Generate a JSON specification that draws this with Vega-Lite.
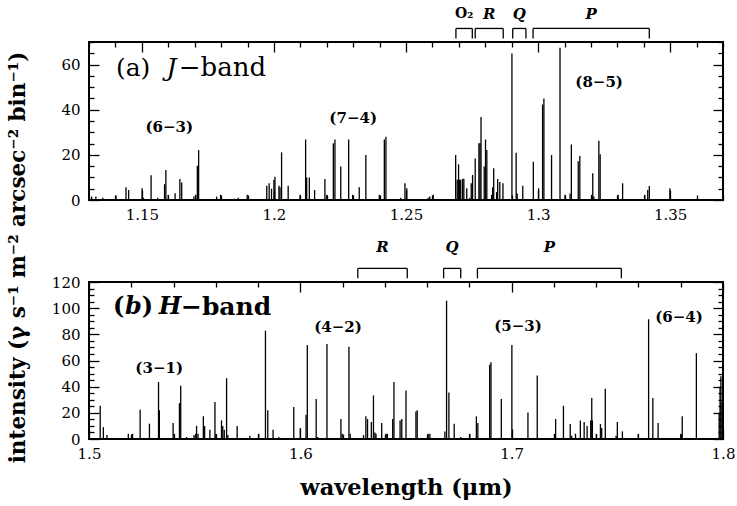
{
"$schema":"https://vega.github.io/schema/vega-lite/v6.json",
"autosize":{"type":"none"},
"padding":{"left":89,"top":42,"right":648,"bottom":464},
"bounds":"flush",
"spacing":82,
"config":{
 "font":"DejaVu Serif",
 "view":{"stroke":"black","strokeWidth":2},
 "axis":{"domain":false,"grid":false,"tickColor":"black","tickWidth":1.3,"labelColor":"black","labelFontSize":15,"labelFont":"DejaVu Serif","titleColor":"black","titleFont":"DejaVu Serif","titleFontWeight":"bold","titleFontSize":21.5,"labelOverlap":false,"labelFlush":false,"labelBound":false}
},
"datasets":{
 "J":[
  {"wl":1.1310,"I":1.5},{"wl":1.1326,"I":1.5},{"wl":1.1352,"I":1},{"wl":1.1402,"I":2},{"wl":1.1440,"I":5.6},{"wl":1.1450,"I":4.4},{"wl":1.1501,"I":5.2},{"wl":1.1506,"I":1},{"wl":1.1535,"I":11},{"wl":1.1560,"I":1},{"wl":1.1586,"I":7},{"wl":1.1591,"I":13.3},{"wl":1.1600,"I":2.3},{"wl":1.1626,"I":3},{"wl":1.1644,"I":9.3},{"wl":1.1651,"I":7.7},{"wl":1.1697,"I":1.5},{"wl":1.1704,"I":2.3},{"wl":1.1710,"I":15.2},{"wl":1.1715,"I":22.1},{"wl":1.1767,"I":0.5},{"wl":1.1783,"I":1.5},{"wl":1.1798,"I":2.3},{"wl":1.1850,"I":0.5},{"wl":1.1865,"I":1},{"wl":1.1899,"I":2.3},{"wl":1.1973,"I":6.3},{"wl":1.1982,"I":7.4},{"wl":1.1991,"I":5},{"wl":1.2000,"I":9},{"wl":1.2004,"I":10.3},{"wl":1.2019,"I":6.3},{"wl":1.2023,"I":5.6},{"wl":1.2029,"I":21.1},{"wl":1.2054,"I":6.3},{"wl":1.2099,"I":2.3},{"wl":1.2120,"I":26.8},{"wl":1.2124,"I":10},{"wl":1.2134,"I":10},{"wl":1.2154,"I":4.4},{"wl":1.2193,"I":9.3},{"wl":1.2200,"I":2.3},{"wl":1.2225,"I":25.1},{"wl":1.2231,"I":26.8},{"wl":1.2253,"I":14.8},{"wl":1.2283,"I":26.8},{"wl":1.2298,"I":2.3},{"wl":1.2323,"I":5.6},{"wl":1.2348,"I":19.9},{"wl":1.2399,"I":2.3},{"wl":1.2418,"I":26.8},{"wl":1.2424,"I":28},{"wl":1.2480,"I":1},{"wl":1.2496,"I":7.4},{"wl":1.2503,"I":5.2},{"wl":1.2584,"I":1},{"wl":1.2590,"I":1.5},{"wl":1.2603,"I":2.3},{"wl":1.2688,"I":19.9},{"wl":1.2694,"I":9},{"wl":1.2699,"I":15.8},{"wl":1.2702,"I":9},{"wl":1.2707,"I":9},{"wl":1.2714,"I":9.4},{"wl":1.2719,"I":9.4},{"wl":1.2730,"I":5.2},{"wl":1.2742,"I":1},{"wl":1.2747,"I":7.4},{"wl":1.2752,"I":11.1},{"wl":1.2762,"I":18.4},{"wl":1.2776,"I":25.1},{"wl":1.2780,"I":25.1},{"wl":1.2784,"I":36.8},{"wl":1.2796,"I":14.8},{"wl":1.2801,"I":26.8},{"wl":1.2806,"I":22.1},{"wl":1.2824,"I":2.3},{"wl":1.2828,"I":5.6},{"wl":1.2832,"I":14.1},{"wl":1.2843,"I":3.5},{"wl":1.2847,"I":9.3},{"wl":1.2855,"I":8},{"wl":1.2867,"I":7.4},{"wl":1.2901,"I":64.9},{"wl":1.2917,"I":20.9},{"wl":1.2921,"I":2.9},{"wl":1.2942,"I":6.3},{"wl":1.2982,"I":16.9},{"wl":1.3002,"I":5.2},{"wl":1.3017,"I":42.3},{"wl":1.3022,"I":45},{"wl":1.3051,"I":19.9},{"wl":1.3083,"I":67.4},{"wl":1.3102,"I":2.3},{"wl":1.3121,"I":2.9},{"wl":1.3126,"I":24.6},{"wl":1.3152,"I":17.2},{"wl":1.3158,"I":19.5},{"wl":1.3203,"I":2.3},{"wl":1.3207,"I":11.8},{"wl":1.3211,"I":1.5},{"wl":1.3230,"I":26.2},{"wl":1.3235,"I":20.3},{"wl":1.3303,"I":2.3},{"wl":1.3320,"I":7.4},{"wl":1.3404,"I":2.3},{"wl":1.3415,"I":4.4},{"wl":1.3421,"I":6.2},{"wl":1.3499,"I":5.2}
 ],
 "H":[
  {"wl":1.5053,"I":25.4},{"wl":1.5068,"I":9.1},{"wl":1.5085,"I":3},{"wl":1.5186,"I":4},{"wl":1.5206,"I":4},{"wl":1.5242,"I":22.3},{"wl":1.5286,"I":11.7},{"wl":1.5329,"I":43.5},{"wl":1.5333,"I":22},{"wl":1.5398,"I":12.2},{"wl":1.5404,"I":4},{"wl":1.5428,"I":27.4},{"wl":1.5434,"I":40.7},{"wl":1.5462,"I":1.5},{"wl":1.5497,"I":3},{"wl":1.5505,"I":4},{"wl":1.5509,"I":10.1},{"wl":1.5516,"I":4},{"wl":1.5541,"I":17.3},{"wl":1.5547,"I":10},{"wl":1.5572,"I":7},{"wl":1.5596,"I":28.2},{"wl":1.5601,"I":4},{"wl":1.5627,"I":14.2},{"wl":1.5633,"I":10},{"wl":1.5640,"I":7},{"wl":1.5651,"I":46.5},{"wl":1.5657,"I":3},{"wl":1.5701,"I":10},{"wl":1.5761,"I":2.5},{"wl":1.5803,"I":4},{"wl":1.5835,"I":82.8},{"wl":1.5846,"I":22},{"wl":1.5871,"I":7},{"wl":1.5898,"I":1.5},{"wl":1.5969,"I":24.4},{"wl":1.6000,"I":8.4},{"wl":1.6027,"I":18.5},{"wl":1.6033,"I":71.9},{"wl":1.6075,"I":30.5},{"wl":1.6082,"I":1.5},{"wl":1.6126,"I":72.7},{"wl":1.6192,"I":15.3},{"wl":1.6198,"I":4},{"wl":1.6230,"I":70.6},{"wl":1.6236,"I":4},{"wl":1.6299,"I":3},{"wl":1.6310,"I":17.3},{"wl":1.6318,"I":15.3},{"wl":1.6336,"I":13},{"wl":1.6346,"I":33.3},{"wl":1.6353,"I":5},{"wl":1.6358,"I":4},{"wl":1.6385,"I":12.2},{"wl":1.6406,"I":4},{"wl":1.6412,"I":4},{"wl":1.6437,"I":15.3},{"wl":1.6443,"I":43.5},{"wl":1.6472,"I":14.2},{"wl":1.6480,"I":15.3},{"wl":1.6500,"I":37.1},{"wl":1.6547,"I":21},{"wl":1.6553,"I":22},{"wl":1.6605,"I":4},{"wl":1.6613,"I":4},{"wl":1.6684,"I":5.8},{"wl":1.6692,"I":105.7},{"wl":1.6703,"I":35.6},{"wl":1.6728,"I":11.7},{"wl":1.6759,"I":1.5},{"wl":1.6802,"I":4},{"wl":1.6833,"I":17.3},{"wl":1.6840,"I":12.2},{"wl":1.6896,"I":56.7},{"wl":1.6902,"I":58.7},{"wl":1.6951,"I":30.5},{"wl":1.7001,"I":71.9},{"wl":1.7077,"I":20.3},{"wl":1.7121,"I":48.5},{"wl":1.7203,"I":4},{"wl":1.7208,"I":15.3},{"wl":1.7245,"I":25.4},{"wl":1.7277,"I":11.4},{"wl":1.7284,"I":2.5},{"wl":1.7302,"I":4},{"wl":1.7325,"I":14.2},{"wl":1.7343,"I":13},{"wl":1.7357,"I":10},{"wl":1.7374,"I":14.2},{"wl":1.7379,"I":31.3},{"wl":1.7382,"I":14.2},{"wl":1.7401,"I":4},{"wl":1.7420,"I":11.4},{"wl":1.7426,"I":8.5},{"wl":1.7443,"I":38.4},{"wl":1.7494,"I":2.5},{"wl":1.7500,"I":13},{"wl":1.7524,"I":5.8},{"wl":1.7599,"I":4},{"wl":1.7648,"I":91.5},{"wl":1.7668,"I":31.3},{"wl":1.7693,"I":12.2},{"wl":1.7800,"I":4},{"wl":1.7807,"I":17.3},{"wl":1.7874,"I":65.6},{"wl":1.7982,"I":20},{"wl":1.7986,"I":40},{"wl":1.7990,"I":48},{"wl":1.7995,"I":28}
 ],
 "JB":[{"lab":"O₂","lo":1.2689,"hi":1.2751,"mid":1.2720},{"lab":"R","lo":1.2762,"hi":1.2868,"mid":1.2815},{"lab":"Q","lo":1.2904,"hi":1.2954,"mid":1.2929},{"lab":"P","lo":1.2981,"hi":1.3421,"mid":1.3201}],
 "HB":[{"lab":"R","lo":1.6272,"hi":1.6506,"mid":1.6389},{"lab":"Q","lo":1.6678,"hi":1.6759,"mid":1.6718},{"lab":"P","lo":1.6838,"hi":1.7519,"mid":1.7178}],
 "JL":[{"lab":"(6−3)","wl":1.1604,"I":32.4},{"lab":"(7−4)","wl":1.2300,"I":36.3},{"lab":"(8−5)","wl":1.3231,"I":52.2}],
 "HL":[{"lab":"(3−1)","wl":1.5332,"I":54.2},{"lab":"(4−2)","wl":1.6178,"I":85.9},{"lab":"(5−3)","wl":1.7030,"I":86.4},{"lab":"(6−4)","wl":1.7792,"I":93.5}]
},
"vconcat":[
 {
  "width":634,"height":158,
  "resolve":{"axis":{"x":"independent","y":"independent"}},
  "layer":[
   {"data":{"name":"J"},"mark":{"type":"rule","color":"black","strokeWidth":1.3},
    "encoding":{
     "x":{"field":"wl","type":"quantitative","scale":{"domain":[1.13,1.37],"nice":false,"zero":false},
      "axis":{"orient":"bottom","title":null,"values":[1.13,1.14,1.15,1.16,1.17,1.18,1.19,1.2,1.21,1.22,1.23,1.24,1.25,1.26,1.27,1.28,1.29,1.3,1.31,1.32,1.33,1.34,1.35,1.36,1.37],"format":"~g",
       "labelExpr":"abs(datum.value*20-round(datum.value*20))<0.001 ? datum.label : ''",
       "tickSize":{"condition":{"test":"abs(datum.value*20-round(datum.value*20))<0.001","value":-10},"value":-5},
       "labelPadding":17}},
     "y":{"field":"I","type":"quantitative","scale":{"domain":[0,70],"nice":false},
      "axis":{"orient":"left","values":[0,5,10,15,20,25,30,35,40,45,50,55,60,65,70],"format":"d",
       "labelExpr":"datum.value%20==0 ? datum.label : ''",
       "tickSize":{"condition":{"test":"datum.value%20==0","value":-10},"value":-5},
       "labelPadding":19,
       "title":"intensity (γ s⁻¹ m⁻² arcsec⁻² bin⁻¹)","titleX":-71,"titleY":215,"titleAngle":-90,"titleAlign":"center","titleBaseline":"middle"}},
     "y2":{"datum":0}
    }},
   {"data":{"name":"J"},"mark":{"type":"rule","opacity":0},
    "encoding":{
     "x":{"field":"wl","type":"quantitative",
      "axis":{"orient":"top","title":null,"labels":false,"values":[1.13,1.14,1.15,1.16,1.17,1.18,1.19,1.2,1.21,1.22,1.23,1.24,1.25,1.26,1.27,1.28,1.29,1.3,1.31,1.32,1.33,1.34,1.35,1.36,1.37],
       "tickSize":{"condition":{"test":"abs(datum.value*20-round(datum.value*20))<0.001","value":-10},"value":-5}}},
     "y":{"field":"I","type":"quantitative",
      "axis":{"orient":"right","title":null,"labels":false,"values":[0,5,10,15,20,25,30,35,40,45,50,55,60,65,70],
       "tickSize":{"condition":{"test":"datum.value%20==0","value":-10},"value":-5}}}
    }},
   {"data":{"name":"JB"},"mark":{"type":"rule","color":"black","strokeWidth":1.3},
    "encoding":{"x":{"field":"lo","type":"quantitative","axis":null},"x2":{"field":"hi"},"y":{"datum":76,"type":"quantitative","axis":null}}},
   {"data":{"name":"JB"},"mark":{"type":"rule","color":"black","strokeWidth":1.3},
    "encoding":{"x":{"field":"lo","type":"quantitative","axis":null},"y":{"datum":76,"type":"quantitative","axis":null},"y2":{"datum":71.6}}},
   {"data":{"name":"JB"},"mark":{"type":"rule","color":"black","strokeWidth":1.3},
    "encoding":{"x":{"field":"hi","type":"quantitative","axis":null},"y":{"datum":76,"type":"quantitative","axis":null},"y2":{"datum":71.6}}},
   {"data":{"name":"JB"},"transform":[{"filter":"datum.lab == 'O₂'"}],"mark":{"type":"text","fontWeight":"bold","fontSize":14,"color":"black","align":"center","baseline":"middle"},
    "encoding":{"x":{"field":"mid","type":"quantitative","axis":null},"y":{"datum":82.5,"type":"quantitative","axis":null},"text":{"field":"lab"}}},
   {"data":{"name":"JB"},"transform":[{"filter":"datum.lab != 'O₂'"}],"mark":{"type":"text","fontWeight":"bold","fontStyle":"italic","fontSize":15,"color":"black","align":"center","baseline":"middle"},
    "encoding":{"x":{"field":"mid","type":"quantitative","axis":null},"y":{"datum":82.5,"type":"quantitative","axis":null},"text":{"field":"lab"}}},
   {"data":{"name":"JL"},"mark":{"type":"text","fontWeight":"bold","fontSize":15,"color":"black","align":"center","baseline":"middle"},
    "encoding":{"x":{"field":"wl","type":"quantitative","axis":null},"y":{"field":"I","type":"quantitative","axis":null},"text":{"field":"lab"}}},
   {"data":{"values":[{}]},"mark":{"type":"text","fontSize":25,"color":"black","align":"left","baseline":"middle"},
    "encoding":{"x":{"datum":1.1402,"type":"quantitative","axis":null},"y":{"datum":58.4,"type":"quantitative","axis":null},"text":{"value":"(a)"}}},
   {"data":{"values":[{}]},"mark":{"type":"text","fontSize":25,"fontStyle":"italic","color":"black","align":"left","baseline":"middle"},
    "encoding":{"x":{"datum":1.1593,"type":"quantitative","axis":null},"y":{"datum":58.4,"type":"quantitative","axis":null},"text":{"value":"J"}}},
   {"data":{"values":[{}]},"mark":{"type":"text","fontSize":26,"color":"black","align":"left","baseline":"middle"},
    "encoding":{"x":{"datum":1.1640,"type":"quantitative","axis":null},"y":{"datum":58.4,"type":"quantitative","axis":null},"text":{"value":"−band"}}}
  ]
 },
 {
  "width":634,"height":157,
  "resolve":{"axis":{"x":"independent","y":"independent"}},
  "layer":[
   {"data":{"name":"H"},"mark":{"type":"rule","color":"black","strokeWidth":1.3},
    "encoding":{
     "x":{"field":"wl","type":"quantitative","scale":{"domain":[1.5,1.8],"nice":false,"zero":false},
      "axis":{"orient":"bottom","values":[1.5,1.52,1.54,1.56,1.58,1.6,1.62,1.64,1.66,1.68,1.7,1.72,1.74,1.76,1.78,1.8],"format":"~g",
       "labelExpr":"abs(datum.value*10-round(datum.value*10))<0.001 ? datum.label : ''",
       "tickSize":{"condition":{"test":"abs(datum.value*10-round(datum.value*10))<0.001","value":-10},"value":-5},
       "labelPadding":17,
       "title":"wavelength (μm)","titleFontSize":22.5,"titleY":48,"titleBaseline":"middle"}},
     "y":{"field":"I","type":"quantitative","scale":{"domain":[0,120],"nice":false},
      "axis":{"orient":"left","title":null,"values":[0,5,10,15,20,25,30,35,40,45,50,55,60,65,70,75,80,85,90,95,100,105,110,115,120],"format":"d",
       "labelExpr":"datum.value%20==0 ? datum.label : ''",
       "tickSize":{"condition":{"test":"datum.value%20==0","value":-10},"value":-5},
       "labelPadding":19}},
     "y2":{"datum":0}
    }},
   {"data":{"name":"H"},"mark":{"type":"rule","opacity":0},
    "encoding":{
     "x":{"field":"wl","type":"quantitative",
      "axis":{"orient":"top","title":null,"labels":false,"values":[1.5,1.52,1.54,1.56,1.58,1.6,1.62,1.64,1.66,1.68,1.7,1.72,1.74,1.76,1.78,1.8],
       "tickSize":{"condition":{"test":"abs(datum.value*10-round(datum.value*10))<0.001","value":-10},"value":-5}}},
     "y":{"field":"I","type":"quantitative",
      "axis":{"orient":"right","title":null,"labels":false,"values":[0,5,10,15,20,25,30,35,40,45,50,55,60,65,70,75,80,85,90,95,100,105,110,115,120],
       "tickSize":{"condition":{"test":"datum.value%20==0","value":-10},"value":-5}}}
    }},
   {"data":{"name":"HB"},"mark":{"type":"rule","color":"black","strokeWidth":1.3},
    "encoding":{"x":{"field":"lo","type":"quantitative","axis":null},"x2":{"field":"hi"},"y":{"datum":130.4,"type":"quantitative","axis":null}}},
   {"data":{"name":"HB"},"mark":{"type":"rule","color":"black","strokeWidth":1.3},
    "encoding":{"x":{"field":"lo","type":"quantitative","axis":null},"y":{"datum":130.4,"type":"quantitative","axis":null},"y2":{"datum":122.8}}},
   {"data":{"name":"HB"},"mark":{"type":"rule","color":"black","strokeWidth":1.3},
    "encoding":{"x":{"field":"hi","type":"quantitative","axis":null},"y":{"datum":130.4,"type":"quantitative","axis":null},"y2":{"datum":122.8}}},
   {"data":{"name":"HB"},"mark":{"type":"text","fontWeight":"bold","fontStyle":"italic","fontSize":15,"color":"black","align":"center","baseline":"middle"},
    "encoding":{"x":{"field":"mid","type":"quantitative","axis":null},"y":{"datum":146.5,"type":"quantitative","axis":null},"text":{"field":"lab"}}},
   {"data":{"name":"HL"},"mark":{"type":"text","fontWeight":"bold","fontSize":15,"color":"black","align":"center","baseline":"middle"},
    "encoding":{"x":{"field":"wl","type":"quantitative","axis":null},"y":{"field":"I","type":"quantitative","axis":null},"text":{"field":"lab"}}},
   {"data":{"values":[{}]},"mark":{"type":"text","fontSize":24,"fontWeight":"bold","color":"black","align":"left","baseline":"middle"},
    "encoding":{"x":{"datum":1.5113,"type":"quantitative","axis":null},"y":{"datum":101,"type":"quantitative","axis":null},"text":{"value":"("}}},
   {"data":{"values":[{}]},"mark":{"type":"text","fontSize":24,"fontWeight":"bold","fontStyle":"italic","color":"black","align":"left","baseline":"middle"},
    "encoding":{"x":{"datum":1.5170,"type":"quantitative","axis":null},"y":{"datum":101,"type":"quantitative","axis":null},"text":{"value":"b"}}},
   {"data":{"values":[{}]},"mark":{"type":"text","fontSize":24,"fontWeight":"bold","color":"black","align":"left","baseline":"middle"},
    "encoding":{"x":{"datum":1.5250,"type":"quantitative","axis":null},"y":{"datum":101,"type":"quantitative","axis":null},"text":{"value":")"}}},
   {"data":{"values":[{}]},"mark":{"type":"text","fontSize":24,"fontWeight":"bold","fontStyle":"italic","color":"black","align":"left","baseline":"middle"},
    "encoding":{"x":{"datum":1.5330,"type":"quantitative","axis":null},"y":{"datum":101,"type":"quantitative","axis":null},"text":{"value":"H"}}},
   {"data":{"values":[{}]},"mark":{"type":"text","fontSize":25,"fontWeight":"bold","color":"black","align":"left","baseline":"middle"},
    "encoding":{"x":{"datum":1.5435,"type":"quantitative","axis":null},"y":{"datum":101,"type":"quantitative","axis":null},"text":{"value":"−band"}}}
  ]
 }
]
}
